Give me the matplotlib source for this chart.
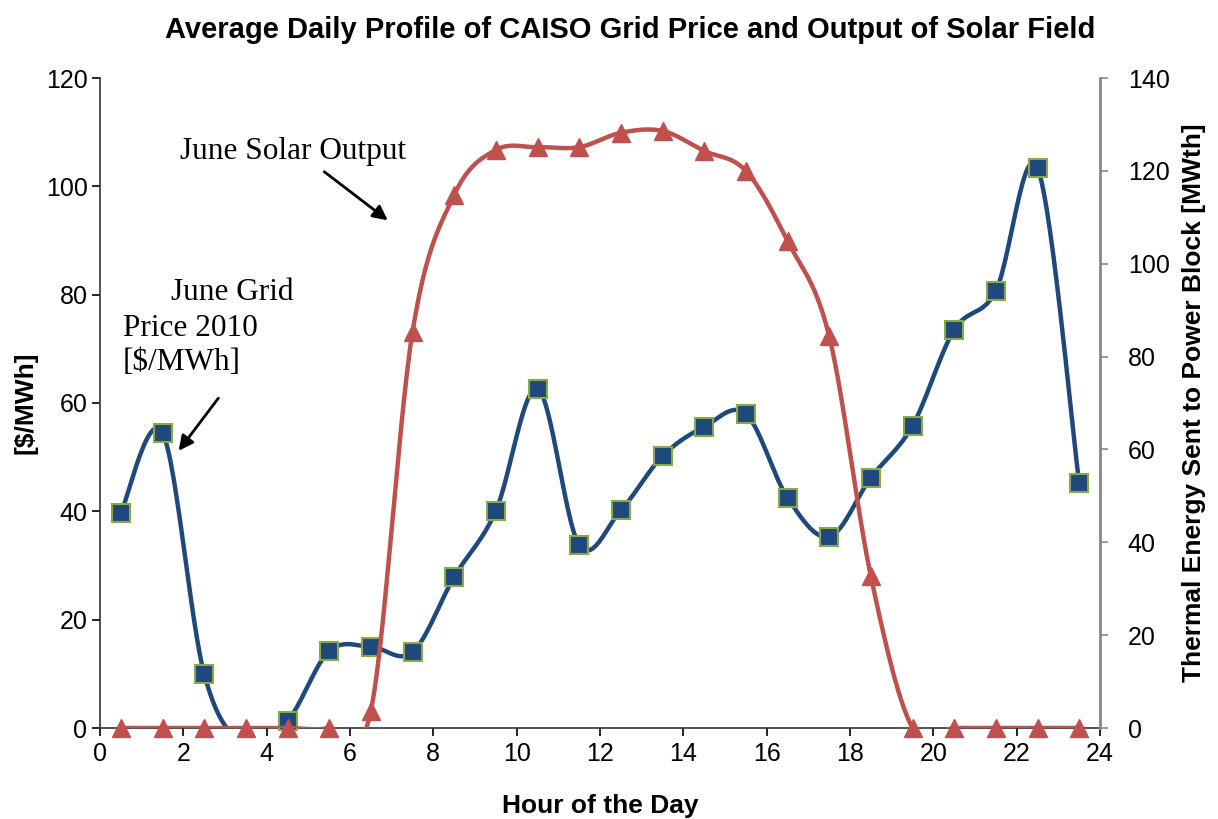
import numpy as np
import matplotlib
matplotlib.use('Agg')
import matplotlib.pyplot as plt

plt.rcParams['font.family'] = ['Liberation Sans', 'DejaVu Sans']

hours = [0.5, 1.5, 2.5, 3.5, 4.5, 5.5, 6.5, 7.5, 8.5, 9.5, 10.5, 11.5,
         12.5, 13.5, 14.5, 15.5, 16.5, 17.5, 18.5, 19.5, 20.5, 21.5, 22.5, 23.5]
price = [39.7, 54.5, 10.0, -3.0, 1.3, 14.2, 15.0, 14.0, 27.9, 40.1, 62.6, 33.8,
         40.2, 50.2, 55.6, 58.0, 42.5, 35.3, 46.2, 55.8, 73.5, 80.7, 103.4, 45.2]
solar = [0, 0, 0, 0, 0, 0, 3.7, 85.3, 114.8, 124.5, 125.1, 125.1,
         128.2, 128.6, 124.3, 120.0, 104.9, 84.4, 32.7, 0, 0, 0, 0, 0]


def smooth(x, y, n=30):
    # excel style smoothed line (bezier with catmull-rom control points)
    x = np.asarray(x, float)
    y = np.asarray(y, float)
    px = np.concatenate([[x[0]], x, [x[-1]]])
    py = np.concatenate([[y[0]], y, [y[-1]]])
    xs, ys = [], []
    t = np.linspace(0, 1, n)
    for i in range(1, len(px) - 2):
        p0 = np.array([px[i], py[i]])
        p3 = np.array([px[i + 1], py[i + 1]])
        p1 = p0 + (p3 - np.array([px[i - 1], py[i - 1]])) / 6
        p2 = p3 - (np.array([px[i + 2], py[i + 2]]) - p0) / 6
        b = ((1 - t) ** 3)[:, None] * p0 + (3 * (1 - t) ** 2 * t)[:, None] * p1 \
            + (3 * (1 - t) * t ** 2)[:, None] * p2 + (t ** 3)[:, None] * p3
        xs.extend(b[:, 0])
        ys.extend(b[:, 1])
    return np.array(xs), np.array(ys)


blue = '#1f497d'
red = '#c0504d'
W, H = 1218, 819

fig = plt.figure(figsize=(12.18, 8.19), dpi=100)
ax = fig.add_axes([100 / W, 1 - 728 / H, 1000 / W, 650 / H])
ax2 = ax.twinx()

sx, sy = smooth(hours, price)
ax.plot(sx, sy, color=blue, lw=3.2, solid_capstyle='round')
# points below zero are off the chart
pvis = np.where(np.array(price) < 0, np.nan, price)
ax.plot(hours, pvis, ls='none', marker='s', ms=12.5, mfc=blue, mec='#8aa843',
        mew=1.5, clip_on=False, zorder=3)
ax.set_xlim(0, 24)
ax.set_ylim(0, 120)
ax.set_xticks(range(0, 25, 2))
ax.set_yticks(range(0, 121, 20))

tx, ty = smooth(hours, solar)
ax2.plot(tx, ty, color=red, lw=3.2)
ax2.plot(hours, solar, ls='none', marker='^', ms=13, mfc=red, mec=red, clip_on=False)
ax2.set_ylim(0, 140)
ax2.set_yticks(range(0, 141, 20))

for a in (ax, ax2):
    a.spines['top'].set_visible(False)
    a.tick_params(labelsize=18, length=6, width=1.2, direction='out')
ax.tick_params(axis='y', pad=3)
ax.tick_params(axis='x', pad=4)
ax2.tick_params(axis='y', pad=14, color='#888888')
ax.spines['left'].set_color('#333333')
ax.spines['bottom'].set_color('#333333')
ax.spines['left'].set_linewidth(1.2)
ax.spines['bottom'].set_linewidth(1.2)
ax2.spines['right'].set_color('#888888')
ax2.spines['right'].set_linewidth(2)
ax2.spines['left'].set_visible(False)
ax2.spines['bottom'].set_visible(False)

ax.set_xlabel('Hour of the Day', fontsize=19, fontweight='bold', labelpad=20)
ax.set_ylabel('[$/MWh]', fontsize=19, fontweight='bold', labelpad=6)
ax2.set_ylabel('Thermal Energy Sent to Power Block [MWth]', fontsize=19,
               fontweight='bold', labelpad=9)
fig.text(0.5 * (163 + 1097) / W, 1 - 30 / H,
         'Average Daily Profile of CAISO Grid Price and Output of Solar Field',
         ha='center', va='center', fontsize=21, fontweight='bold')


def fp(x, y):
    return (x, H - y)


serif = 'Liberation Serif'
fig.text(180 / W, 1 - 152 / H, 'June Solar Output', family=serif, fontsize=22.5, va='center')
fig.text(232 / W, 1 - 293 / H, 'June Grid', family=serif, fontsize=22.5, va='center', ha='center')
fig.text(123 / W, 1 - 328 / H, 'Price 2010', family=serif, fontsize=22.5, va='center')
fig.text(123 / W, 1 - 362 / H, '[$/MWh]', family=serif, fontsize=22.5, va='center')

arrow = dict(arrowstyle='-|>', color='black', lw=2, mutation_scale=22)
ax.annotate('', xy=fp(390, 222), xytext=fp(322, 170),
            xycoords='figure pixels', textcoords='figure pixels', arrowprops=arrow)
ax.annotate('', xy=fp(177, 453), xytext=fp(220, 396),
            xycoords='figure pixels', textcoords='figure pixels', arrowprops=arrow)

fig.savefig('out.png', dpi=100)
